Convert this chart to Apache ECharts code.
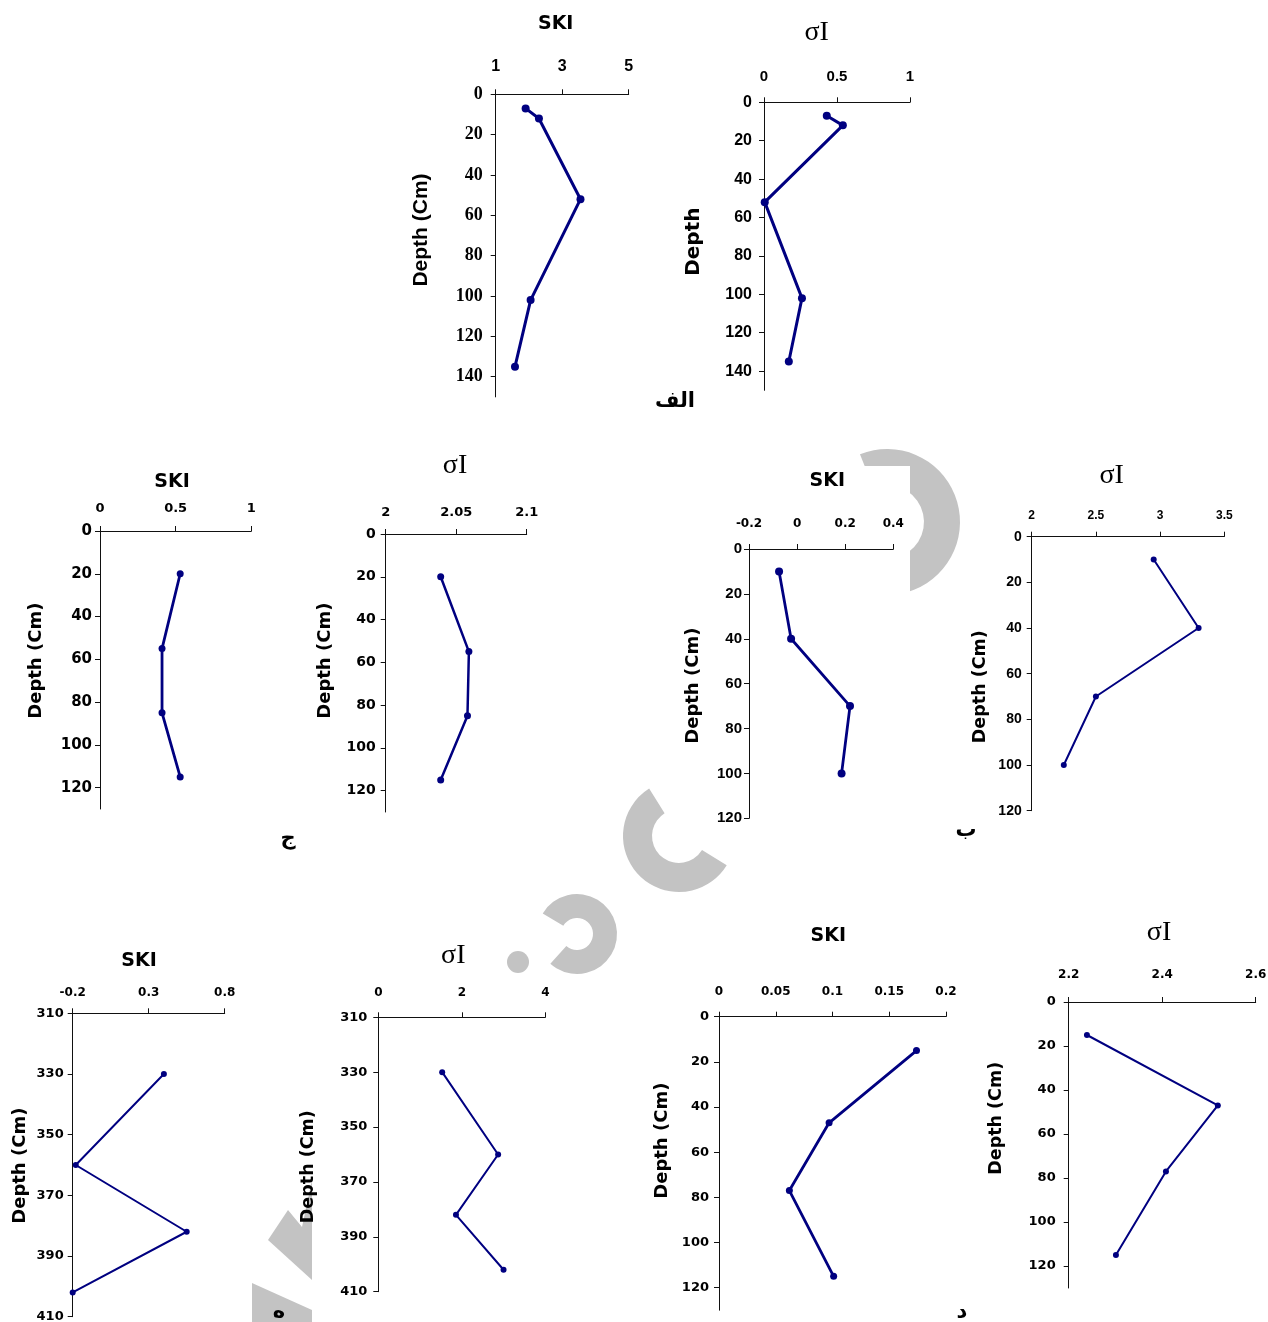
<!DOCTYPE html>
<html>
<head>
<meta charset="utf-8">
<script src="https://cdn.jsdelivr.net/npm/echarts@6/dist/echarts.min.js"></script>
<style>
  html, body { margin: 0; padding: 0; background: #fff; }
  #main { width: 1268px; height: 1322px; }
</style>
</head>
<body>
<div id="main"></div>
<script>
// profile depths (cm) and values
const depthAlef = [7, 12, 52, 102, 135];
const skiAlef = [1.9, 2.3, 3.55, 2.05, 1.58];
const sigmaAlef = [0.43, 0.54, 0.005, 0.26, 0.17];

const depthJim = [20, 55, 85, 115];
const skiJim = [0.53, 0.41, 0.41, 0.53];
const sigmaJim = [2.039, 2.059, 2.058, 2.039];

const depthBe = [10, 40, 70, 100];
const skiBe = [-0.075, -0.025, 0.22, 0.185];
const sigmaBe = [2.95, 3.3, 2.5, 2.25];

const depthHe = [330, 360, 382, 402];
const skiHe = [0.4, -0.18, 0.55, -0.2];
const sigmaHe = [1.53, 2.87, 1.86, 3.0];

const depthDal = [15, 47, 77, 115];
const skiDal = [0.174, 0.097, 0.062, 0.101];
const sigmaDal = [2.239, 2.519, 2.408, 2.301];

// tick labels
const ticksSkiAlef = [1, 3, 5];
const ticksSigmaAlef = [0, 0.5, 1];
const ticksSkiJim = [0, 0.5, 1];
const ticksSigmaJim = [2, 2.05, 2.1];
const ticksSkiBe = [-0.2, 0, 0.2, 0.4];
const ticksSigmaBe = [2, 2.5, 3, 3.5];
const ticksSkiHe = [-0.2, 0.3, 0.8];
const ticksSigmaHe = [0, 2, 4];
const ticksSkiDal = [0, 0.05, 0.1, 0.15, 0.2];
const ticksSigmaDal = [2.2, 2.4, 2.6];
const depthTicks140 = [0, 20, 40, 60, 80, 100, 120, 140];
const depthTicks120 = [0, 20, 40, 60, 80, 100, 120];
const depthTicksDeep = [310, 330, 350, 370, 390, 410];

const SANS = 'DejaVu Sans';
const ARIAL = 'Liberation Sans';
const SERIF = 'Liberation Serif';
const NAVY = '#000080';
const WM = '#c3c3c3';

// layout of each small panel
const panels = [
  { left: 495.7, top: 94.3, width: 133, height: 302.6, xMin: 1, xMax: 5, xTicks: ticksSkiAlef, yMin: 0, yMax: 150, yTicks: depthTicks140,
    depth: depthAlef, vals: skiAlef, xFont: ARIAL, xSize: 16, xMargin: 20, yFont: SERIF, ySize: 18, yMargin: 13, lw: 3, sym: 8 },
  { left: 764, top: 102.3, width: 146, height: 288, xMin: 0, xMax: 1, xTicks: ticksSigmaAlef, yMin: 0, yMax: 150, yTicks: depthTicks140,
    depth: depthAlef, vals: sigmaAlef, xFont: ARIAL, xSize: 15, xMargin: 18, yFont: ARIAL, ySize: 16, yMargin: 12, lw: 3, sym: 8 },
  { left: 100, top: 531, width: 151.3, height: 278, xMin: 0, xMax: 1, xTicks: ticksSkiJim, yMin: 0, yMax: 130, yTicks: depthTicks120,
    depth: depthJim, vals: skiJim, xFont: SANS, xSize: 13, xMargin: 16, yFont: SANS, ySize: 15, yMargin: 8, lw: 2.8, sym: 7 },
  { left: 385.7, top: 534, width: 141, height: 278, xMin: 2, xMax: 2.1, xTicks: ticksSigmaJim, yMin: 0, yMax: 130, yTicks: depthTicks120,
    depth: depthJim, vals: sigmaJim, xFont: SANS, xSize: 13, xMargin: 15, yFont: SANS, ySize: 14, yMargin: 10, lw: 2.5, sym: 7 },
  { left: 749, top: 549, width: 144.3, height: 269.3, xMin: -0.2, xMax: 0.4, xTicks: ticksSkiBe, yMin: 0, yMax: 120, yTicks: depthTicks120,
    depth: depthBe, vals: skiBe, xFont: SANS, xSize: 12, xMargin: 19, yFont: ARIAL, ySize: 15, yMargin: 7, lw: 2.8, sym: 8 },
  { left: 1031.7, top: 536.7, width: 192.6, height: 274, xMin: 2, xMax: 3.5, xTicks: ticksSigmaBe, yMin: 0, yMax: 120, yTicks: depthTicks120,
    depth: depthBe, vals: sigmaBe, xFont: ARIAL, xSize: 12, xMargin: 15, yFont: ARIAL, ySize: 14, yMargin: 10, lw: 2, sym: 6 },
  { left: 72.7, top: 1013.3, width: 152, height: 303.4, xMin: -0.2, xMax: 0.8, xTicks: ticksSkiHe, yMin: 310, yMax: 410, yTicks: depthTicksDeep,
    depth: depthHe, vals: skiHe, xFont: SANS, xSize: 12, xMargin: 14, yFont: SANS, ySize: 13, yMargin: 9, lw: 2, sym: 6 },
  { left: 378.3, top: 1017.3, width: 167, height: 274.4, xMin: 0, xMax: 4, xTicks: ticksSigmaHe, yMin: 310, yMax: 410, yTicks: depthTicksDeep,
    depth: depthHe, vals: sigmaHe, xFont: SANS, xSize: 12, xMargin: 18, yFont: SANS, ySize: 13, yMargin: 11, lw: 2, sym: 6 },
  { left: 719, top: 1016.7, width: 227, height: 293.5, xMin: 0, xMax: 0.2, xTicks: ticksSkiDal, yMin: 0, yMax: 130, yTicks: depthTicks120,
    depth: depthDal, vals: skiDal, xFont: SANS, xSize: 12, xMargin: 19, yFont: SANS, ySize: 13, yMargin: 10, lw: 2.8, sym: 7 },
  { left: 1068.7, top: 1002, width: 187, height: 286, xMin: 2.2, xMax: 2.6, xTicks: ticksSigmaDal, yMin: 0, yMax: 130, yTicks: depthTicks120,
    depth: depthDal, vals: sigmaDal, xFont: SANS, xSize: 12, xMargin: 21, yFont: SANS, ySize: 13, yMargin: 13, lw: 2, sym: 6 }
];

// panel titles, axis names and the Arabic panel letters
const titles = [
  ['SKI', 555.7, 24.5], ['σI', 816.7, 33], ['SKI', 172, 481.7], ['σI', 455, 466],
  ['SKI', 827.3, 480.7], ['σI', 1111.7, 476], ['SKI', 139, 961.2], ['σI', 453.3, 956],
  ['SKI', 828.3, 936.2], ['σI', 1159, 932.5]
];
const depthNames = [
  ['Depth (Cm)', 421.7, 230, ARIAL, 21], ['Depth', 694, 241.7, SANS, 20],
  ['Depth (Cm)', 36.7, 660.7, SANS, 18], ['Depth (Cm)', 325, 660.7, SANS, 18],
  ['Depth (Cm)', 693.3, 685.7, SANS, 18], ['Depth (Cm)', 980.7, 686.7, SANS, 17.5],
  ['Depth (Cm)', 20.8, 1165.7, SANS, 18], ['Depth (Cm)', 308.3, 1166.7, SANS, 17.5],
  ['Depth (Cm)', 662.3, 1140.7, SANS, 18], ['Depth (Cm)', 996.7, 1118.3, SANS, 17.5]
];
const letters = [['الف', 675, 402], ['ج', 288, 839], ['ب', 966, 831], ['ه', 279, 1312], ['د', 962, 1313]];

const grid = [], xAxis = [], yAxis = [], series = [];
panels.forEach(function (p, i) {
  grid.push({ left: p.left, top: p.top, width: p.width, height: p.height, containLabel: false, outerBoundsMode: 'none' });
  xAxis.push({
    type: 'value', gridIndex: i, position: 'top', min: p.xMin, max: p.xMax,
    axisLine: { show: true, onZero: false, lineStyle: { color: '#111', width: 1 } },
    axisTick: { show: true, length: 5, customValues: p.xTicks, lineStyle: { color: '#111' } },
    axisLabel: { customValues: p.xTicks, margin: p.xMargin, color: '#000', fontWeight: 'bold', fontFamily: p.xFont, fontSize: p.xSize },
    splitLine: { show: false }
  });
  yAxis.push({
    type: 'value', gridIndex: i, inverse: true, min: p.yMin, max: p.yMax,
    axisLine: { show: true, onZero: false, lineStyle: { color: '#111', width: 1 } },
    axisTick: { show: true, length: 5, customValues: p.yTicks, lineStyle: { color: '#111' } },
    axisLabel: { customValues: p.yTicks, margin: p.yMargin, color: '#000', fontWeight: 'bold', fontFamily: p.yFont, fontSize: p.ySize },
    splitLine: { show: false }
  });
  series.push({
    type: 'line', xAxisIndex: i, yAxisIndex: i,
    data: p.depth.map(function (d, k) { return [p.vals[k], d]; }),
    symbol: 'circle', symbolSize: p.sym,
    lineStyle: { color: NAVY, width: p.lw },
    itemStyle: { color: NAVY },
    animation: false
  });
});

// faint grey watermark fragments behind the panels
const graphic = [
  { type: 'sector', z: -10, shape: { cx: 887, cy: 522, r: 73, r0: 37, startAngle: -1.95, endAngle: 1.35 }, style: { fill: WM } },
  { type: 'rect', z: -9, shape: { x: 850, y: 466, width: 60, height: 150 }, style: { fill: '#fff' } },
  { type: 'sector', z: -10, shape: { cx: 679, cy: 836, r: 56, r0: 27, startAngle: 0.55, endAngle: 4.15 }, style: { fill: WM } },
  { type: 'sector', z: -10, shape: { cx: 577, cy: 934, r: 40, r0: 16, startAngle: -2.6, endAngle: 2.3 }, style: { fill: WM } },
  { type: 'circle', z: -10, shape: { cx: 518, cy: 962, r: 11 }, style: { fill: WM } },
  { type: 'polygon', z: -10, shape: { points: [[288, 1210], [302, 1227], [312, 1180], [312, 1280], [268, 1240]] }, style: { fill: WM } },
  { type: 'polygon', z: -10, shape: { points: [[252, 1283], [312, 1310], [312, 1322], [252, 1322]] }, style: { fill: WM } }
];
titles.forEach(function (t) {
  const sigma = t[0] !== 'SKI';
  graphic.push({
    type: 'text', x: t[1], y: t[2],
    style: {
      text: t[0], textAlign: 'center', textVerticalAlign: 'middle', fill: '#000',
      font: sigma ? '28px "Liberation Serif"' : 'bold 19px "DejaVu Sans"'
    }
  });
});
depthNames.forEach(function (n) {
  graphic.push({
    type: 'text', x: n[1], y: n[2], rotation: Math.PI / 2,
    style: { text: n[0], textAlign: 'center', textVerticalAlign: 'middle', fill: '#000', font: 'bold ' + n[4] + 'px "' + n[3] + '"' }
  });
});
letters.forEach(function (l) {
  graphic.push({
    type: 'text', x: l[1], y: l[2],
    style: { text: l[0], textAlign: 'center', textVerticalAlign: 'middle', fill: '#000', font: 'bold 21px "DejaVu Sans"' }
  });
});

const chart = echarts.init(document.getElementById('main'), null, { renderer: 'canvas' });
chart.setOption({
  backgroundColor: '#fff',
  animation: false,
  grid: grid,
  xAxis: xAxis,
  yAxis: yAxis,
  series: series,
  graphic: graphic
});
</script>
</body>
</html>
